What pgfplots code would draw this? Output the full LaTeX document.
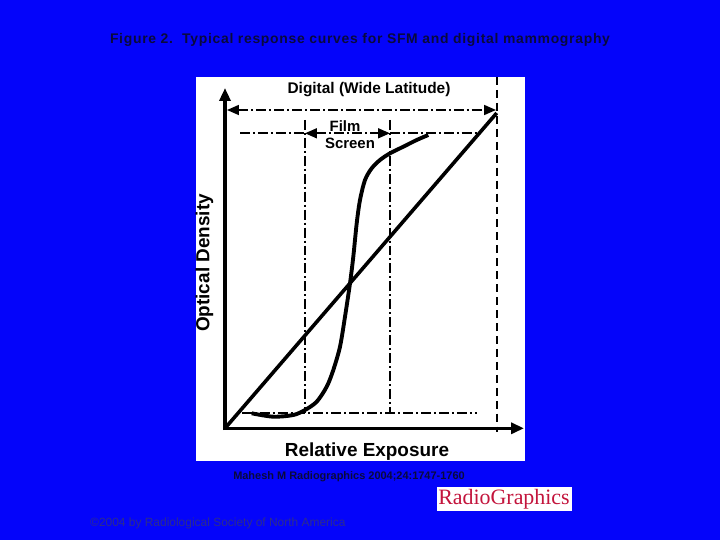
\documentclass[border=0pt]{standalone}
\usepackage{pgfplots}
\pgfplotsset{compat=1.18}
\usepackage{fontspec}
\setmainfont{Liberation Sans}
\newfontfamily\seriffont{Liberation Serif}
\newfontfamily\spacedfont[LetterSpace=5]{Liberation Sans}
\usetikzlibrary{arrows.meta}
\definecolor{bgblue}{RGB}{4,4,250}
\definecolor{titlecol}{RGB}{10,10,60}
\definecolor{copycol}{RGB}{45,45,140}
\definecolor{logored}{RGB}{195,20,60}
\tikzset{dd/.style={line width=1.7pt, dash pattern=on 10pt off 3pt on 2pt off 3pt},
  dsh/.style={line width=1.9pt, dash pattern=on 8pt off 5pt},
  arr/.style={-{Triangle[length=13pt,width=11pt]}}}
\begin{document}
\begin{tikzpicture}
\begin{axis}[scale only axis, width=720bp, height=540bp,
  xmin=0, xmax=720, ymin=0, ymax=540, y dir=reverse,
  hide axis, clip=false,
  axis background/.style={fill=bgblue}]
% white panel
\fill[white] (axis cs:196,77) rectangle (axis cs:525,461);
% dash-dot guide lines
\addplot[dsh, black] coordinates {(496.7,77) (496.7,432)};
\addplot[dd, black, {Triangle[length=12pt,width=10pt]}-{Triangle[length=12pt,width=10pt]}] coordinates {(227,110) (496,110)};
\addplot[dd, black] coordinates {(240,133.3) (305,133.3)};
\addplot[dd, black, {Triangle[length=12pt,width=10pt]}-{Triangle[length=12pt,width=10pt]}] coordinates {(305,133.3) (390,133.3)};
\addplot[dd, black] coordinates {(390,133.3) (476.7,133.3)};
\addplot[dd, black] coordinates {(305,120) (305,413.3)};
\addplot[dd, black] coordinates {(390,120) (390,413.3)};
\addplot[dd, black] coordinates {(241.7,413.3) (476.7,413.3)};
% axes
\addplot[black, line width=3.6pt, arr] coordinates {(225,430) (225,88)};
\addplot[black, line width=3.6pt, arr] coordinates {(223.2,428.3) (524,428.3)};
% digital response
\addplot[black, line width=3.6pt] coordinates {(225,428.3) (496.7,113)};
% film-screen response
\addplot[black, line width=3.9pt, smooth, tension=0.5] coordinates {
(251.7,413.3) (273.3,416.7) (293.3,415) (305,410) (316.7,401.7) (326.7,386.7)
(333.3,370) (340,346.7) (345,316.7) (350,283.3) (353.3,256.7) (356.7,223.3)
(360,200) (365,180) (371.7,168.3) (380,160) (390,153.3) (403.3,146.7)
(416.7,140) (428.3,135)};
% texts in panel
\node[font=\fontsize{15.5}{18}\selectfont\bfseries] at (axis cs:369,90) {Digital (Wide Latitude)};
\node[font=\fontsize{15}{17}\selectfont\bfseries] at (axis cs:345,126) {Film};
\node[font=\fontsize{15}{17}\selectfont\bfseries, fill=white, inner sep=0.5pt] at (axis cs:350,143) {Screen};
\node[font=\fontsize{19}{22}\selectfont\bfseries, rotate=90] at (axis cs:204.5,263) {Optical Density};
\node[font=\fontsize{19}{22}\selectfont\bfseries] at (axis cs:367,452) {Relative Exposure};
% title and credits
\node[font=\spacedfont\fontsize{14}{16}\selectfont\bfseries, text=titlecol] at (axis cs:360,40) {Figure 2.\ \ Typical response curves for SFM and digital mammography};
\node[font=\fontsize{11}{13}\selectfont\bfseries, text=titlecol] at (axis cs:349,477) {Mahesh M Radiographics 2004;24:1747-1760};
\fill[white] (axis cs:436.5,487) rectangle (axis cs:572,511);
\node[font=\seriffont\fontsize{22}{24}\selectfont, text=logored] at (axis cs:504,499) {RadioGraphics};
\node[font=\fontsize{12}{14}\selectfont, text=copycol, anchor=west, inner sep=0pt] at (axis cs:90,523) {\textcopyright 2004 by Radiological Society of North America};
\end{axis}
\end{tikzpicture}
\end{document}
